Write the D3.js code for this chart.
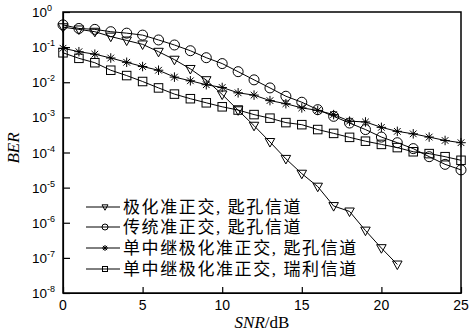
<!DOCTYPE html>
<html><head><meta charset="utf-8">
<script src="https://cdn.jsdelivr.net/npm/d3@7"></script>
<style>
html,body{margin:0;padding:0;background:#fff;}
svg{display:block;}
</style></head>
<body>
<svg id="chart" width="473" height="332"></svg>
<script>
const snr = d3.range(0, 26);
const snrTri = d3.range(0, 22);
const berTri = [3.7e-1,3.2e-1,2.75e-1,2.0e-1,1.55e-1,1.2e-1,7.4e-2,4.4e-2,2.4e-2,1.15e-2,4.5e-3,1.6e-3,5.8e-4,2.0e-4,6.6e-5,2.5e-5,1.07e-5,3.0e-6,2.1e-6,6.0e-7,1.9e-7,6.5e-8];
const berCirc = [4.3e-1,3.4e-1,3.2e-1,2.75e-1,2.5e-1,2.2e-1,1.6e-1,1.15e-1,7.9e-2,5.0e-2,3.4e-2,2.0e-2,1.17e-2,6.9e-3,4.0e-3,2.7e-3,1.66e-3,1.07e-3,6.9e-4,4.5e-4,2.75e-4,1.9e-4,1.29e-4,7.6e-5,4.6e-5,3.2e-5];
const berStar = [9.3e-2,7.4e-2,6.3e-2,4.9e-2,3.7e-2,2.8e-2,2.2e-2,1.4e-2,1.1e-2,8.5e-3,7.1e-3,5.0e-3,4.3e-3,3.0e-3,2.45e-3,1.86e-3,1.58e-3,1.2e-3,7.8e-4,7.4e-4,5.2e-4,4.0e-4,3.4e-4,2.75e-4,2.2e-4,1.9e-4];
const berSq = [6.9e-2,4.8e-2,3.6e-2,2.2e-2,1.55e-2,1.05e-2,6.9e-3,4.6e-3,3.4e-3,2.6e-3,2.0e-3,1.62e-3,1.2e-3,9.5e-4,7.1e-4,6.2e-4,4.5e-4,3.5e-4,2.7e-4,2.1e-4,1.7e-4,1.38e-4,1.05e-4,9.3e-5,7.6e-5,6.0e-5];
const seriesNames = ["极化准正交, 匙孔信道","传统准正交, 匙孔信道","单中继极化准正交, 匙孔信道","单中继极化准正交, 瑞利信道"];
const xTicks = [0,5,10,15,20,25];
const yExps = [0,-1,-2,-3,-4,-5,-6,-7,-8];

const series = [
  {name: seriesNames[0], x: snrTri, y: berTri, marker: "tri"},
  {name: seriesNames[1], x: snr, y: berCirc, marker: "circ"},
  {name: seriesNames[2], x: snr, y: berStar, marker: "star"},
  {name: seriesNames[3], x: snr, y: berSq, marker: "sq"}
];

const svg = d3.select("#chart");
const L = 63, R = 461, T = 12, B = 293;
const x = d3.scaleLinear().domain([0,25]).range([L,R]);
const y = d3.scaleLog().domain([1e-8,1]).range([B,T]);

function drawMarker(g, type, s) {
  if (type === "tri") {
    const h = s*0.9;
    g.append("path").attr("d", `M${-s/2},${-h*0.4}L${s/2},${-h*0.4}L0,${h*0.6}Z`).attr("fill","none").attr("stroke","#000").attr("stroke-width",1);
  } else if (type === "circ") {
    g.append("circle").attr("r", s/2).attr("fill","none").attr("stroke","#000").attr("stroke-width",1);
  } else if (type === "sq") {
    g.append("rect").attr("x",-s/2+0.5).attr("y",-s/2+0.5).attr("width",s-1).attr("height",s-1).attr("fill","none").attr("stroke","#000").attr("stroke-width",1);
  } else if (type === "star") {
    const r = s/2, d = r*0.7;
    g.append("path").attr("d", `M0,${-r}V${r}M${-r},0H${r}M${-d},${-d}L${d},${d}M${-d},${d}L${d},${-d}`).attr("stroke","#000").attr("stroke-width",1);
    g.append("circle").attr("r",1.1).attr("fill","#000");
  }
}

// series
const line = d3.line();
series.forEach(s => {
  const pts = s.x.map((v,i) => [x(v), y(s.y[i])]);
  svg.append("path").attr("d", line(pts)).attr("fill","none").attr("stroke","#000").attr("stroke-width",1);
  pts.forEach(p => {
    const g = svg.append("g").attr("transform", `translate(${p[0]},${p[1]})`);
    drawMarker(g, s.marker, s.marker === "circ" ? 10 : 9.5);
  });
});

// axes (ticks inward)
const xAxis = d3.axisBottom(x).tickValues(xTicks).tickSizeInner(-6).tickSizeOuter(0).tickFormat("");
const yAxis = d3.axisLeft(y).tickValues(yExps.map(e => Math.pow(10,e))).tickSizeInner(-7).tickSizeOuter(0).tickFormat("");
const gx = svg.append("g").attr("transform",`translate(0,${B})`).call(xAxis);
const gy = svg.append("g").attr("transform",`translate(${L},0)`).call(yAxis);
[gx, gy].forEach(g => { g.selectAll("path,line").attr("stroke","#000").attr("stroke-width",1.2); });
svg.append("rect").attr("x",L).attr("y",T).attr("width",R-L).attr("height",B-T).attr("fill","none").attr("stroke","#000").attr("stroke-width",1.5);

// x tick labels
svg.append("g").selectAll("text").data(xTicks).join("text")
  .attr("x", d => x(d)).attr("y", 310).attr("text-anchor","middle")
  .attr("font-family","Liberation Sans, Arial, sans-serif").attr("font-size",14).text(d => d);

// y tick labels
const yl = svg.append("g").selectAll("text").data(yExps).join("text")
  .attr("x", 32).attr("y", d => y(Math.pow(10,d)) + 5)
  .attr("font-family","Liberation Sans, Arial, sans-serif").attr("font-size",13.5);
yl.append("tspan").text("10");
yl.append("tspan").attr("dy",-6).attr("font-size",9).text(d => String(d));

// axis titles
const xt = svg.append("text").attr("x", 262).attr("y", 328).attr("text-anchor","middle")
  .attr("font-family","Liberation Serif, Times New Roman, serif").attr("font-size",17);
xt.append("tspan").attr("font-style","italic").text("SNR");
xt.append("tspan").text("/dB");
svg.append("text").attr("transform","translate(19,148) rotate(-90)").attr("text-anchor","middle")
  .attr("font-family","Liberation Serif, Times New Roman, serif").attr("font-size",17).attr("font-style","italic").text("BER");

// legend
const lg = svg.append("g");
const rowY = [207, 227, 248, 269];
series.forEach((s,i) => {
  const ry = rowY[i];
  lg.append("line").attr("x1",86).attr("x2",120).attr("y1",ry).attr("y2",ry).attr("stroke","#000").attr("stroke-width",1);
  const g = lg.append("g").attr("transform",`translate(105,${ry})`);
  drawMarker(g, s.marker, 6);
  lg.append("text").attr("x",123).attr("y",ry+6).attr("font-family","Liberation Serif, Noto Sans CJK SC, serif")
    .attr("font-size",17).attr("letter-spacing",1.6).text(s.name);
});
</script>
</body></html>
